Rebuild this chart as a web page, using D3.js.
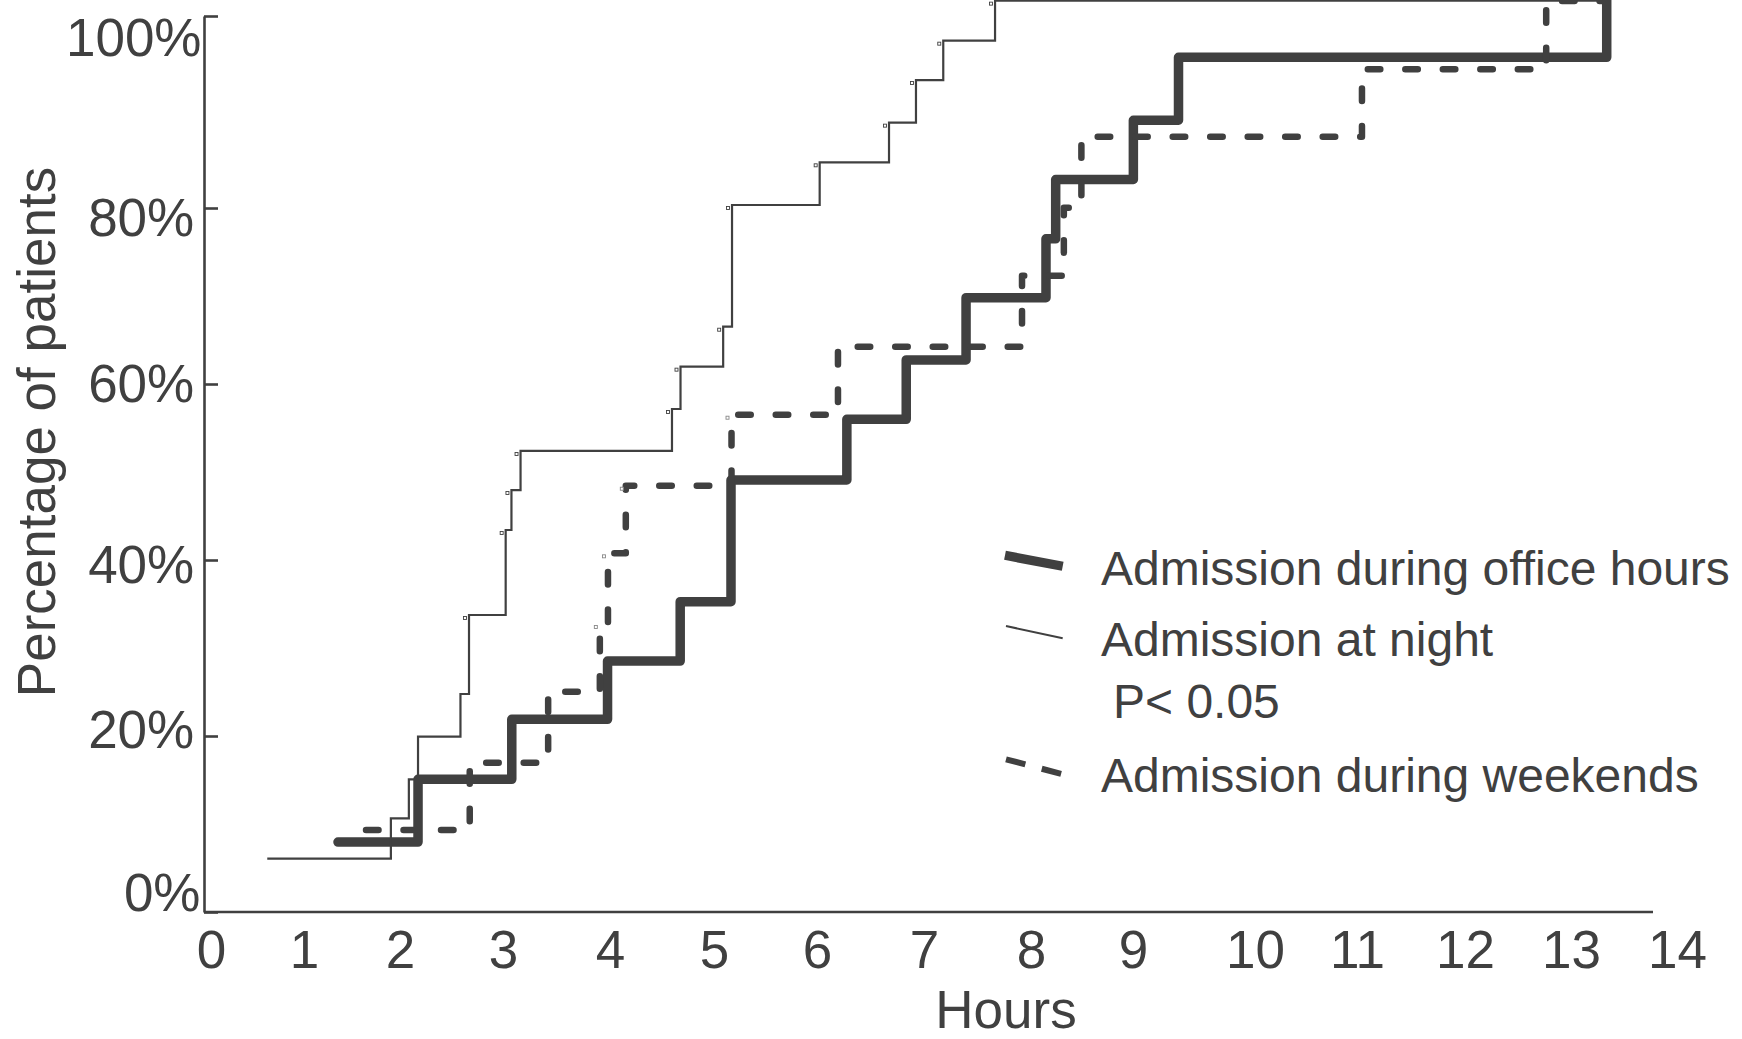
<!DOCTYPE html>
<html><head><meta charset="utf-8">
<script src="https://cdn.jsdelivr.net/npm/d3@7"></script>
<style>html,body{margin:0;padding:0;background:#fff;overflow:hidden}</style>
</head><body><svg id="chart" width="1742" height="1039"></svg>
<script>
// ---------- data ----------
const hourTicks = [0,1,2,3,4,5,6,7,8,9,10,11,12,13,14];
const pctTicks = [0,20,40,60,80,100];
const seriesNames = ["Admission during office hours","Admission at night","Admission during weekends"];
const pValueText = "P< 0.05";

// office hours (thick line): step times (h) and cumulative %
const officeTimes  = [1.354,2.175,3.082,3.977,4.675,5.165,6.279,6.834,7.393,8.147,8.242,9.003,9.373,13.337];
const officeValues = [7.95,15.08,21.90,28.52,35.26,49.09,55.99,62.73,69.81,76.50,82.97,89.14,95.70,102.3];

// night (thin line)
const nightTimes  = [0.605,1.905,2.086,2.175,2.587,2.670,3.025,3.079,3.164,4.596,4.678,5.089,5.175,6.025,6.673,6.925,7.180,7.664,13.302];
const nightValues = [6.06,10.65,15.08,19.92,24.77,33.75,43.41,47.95,52.39,57.16,61.97,66.51,80.31,84.76,88.89,93.33,97.43,101.6,101.6];
const nightMarked = [5,6,7,8,9,10,11,12,13,14,15,16,17];

// weekends (dashed line)
const weekendTimes  = [1.646,2.677,3.422,3.905,3.981,4.152,5.170,6.196,7.916,8.322,8.494,11.046,12.766,13.292];
const weekendValues = [9.32,16.97,25.03,32.73,40.76,48.44,56.51,64.24,72.31,80.03,87.43,94.45,101.56,101.56];
const weekendMarked = [3,4,5,6];

// ---------- layout ----------
const INK = "#404040";
const FONT = "'Liberation Sans', Arial, Helvetica, sans-serif";
const svg = d3.select("#chart");
svg.append("rect").attr("width",1742).attr("height",1039).attr("fill","#fff");

const x = d3.scaleLinear().domain(hourTicks)
  .range([211,304,400,503,610,714,817,924,1031,1133,1255,1357,1465,1571,1677]);
const y = d3.scaleLinear().domain(pctTicks).range([912,736,560,384,208,16]);

// x axis
const xAxisG = svg.append("g").attr("transform","translate(0,912)")
  .call(d3.axisBottom(x).tickValues(hourTicks).tickSize(0).tickFormat(d3.format("d")));
xAxisG.select(".domain").remove();
xAxisG.selectAll("text").attr("y",56).attr("dy",0)
  .attr("fill",INK).style("font-family",FONT).style("font-size","53px");
svg.append("line").attr("x1",204).attr("x2",1653).attr("y1",912).attr("y2",912)
  .attr("stroke",INK).attr("stroke-width",2.6);

// y axis
const labelX = {0:-3.5,20:-9.8,40:-9.8,60:-9.8,80:-9.8,100:-2.5};
const labelBase = {0:-2,20:11.7,40:22.7,60:17.7,80:27,100:39};
const yAxisG = svg.append("g").attr("transform","translate(204,0)")
  .call(d3.axisLeft(y).tickValues(pctTicks).tickSize(-14).tickSizeOuter(0).tickFormat(d=>d+"%"));
yAxisG.select(".domain").attr("stroke",INK).attr("stroke-width",2.6);
yAxisG.selectAll(".tick line").attr("stroke",INK).attr("stroke-width",2.6);
yAxisG.selectAll(".tick text")
  .attr("x",d=>labelX[d]).attr("dy",0).attr("y",d=>labelBase[d])
  .attr("fill",INK).style("font-family",FONT).style("font-size","53px");

// axis titles
svg.append("text").attr("x",1006).attr("y",1027.5).attr("text-anchor","middle")
  .attr("fill",INK).style("font-family",FONT).style("font-size","53px").text("Hours");
svg.append("text").attr("transform","translate(55,432) rotate(-90)").attr("text-anchor","middle")
  .attr("fill",INK).style("font-family",FONT).style("font-size","53px").text("Percentage of patients");

// ---------- curves ----------
const line = d3.line().x(d=>x(d[0])).y(d=>y(d[1])).curve(d3.curveStepAfter);
const office = d3.zip(officeTimes, officeValues);
const night = d3.zip(nightTimes, nightValues);
const weekend = d3.zip(weekendTimes, weekendValues);

svg.append("path").datum(office).attr("d",line).attr("fill","none")
  .attr("stroke",INK).attr("stroke-width",9.5)
  .attr("stroke-linejoin","round").attr("stroke-linecap","round");
svg.append("path").datum(night).attr("d",line).attr("fill","none")
  .attr("stroke",INK).attr("stroke-width",2.2).attr("stroke-linejoin","miter");
svg.append("path").datum(weekend).attr("d",line).attr("fill","none")
  .attr("stroke",INK).attr("stroke-width",6.5)
  .attr("stroke-linecap","round").attr("stroke-linejoin","round")
  .attr("stroke-dasharray","12.5,25");

// small censor marks near steps
svg.append("g").selectAll("rect").data(nightMarked.map(i=>night[i])).join("rect")
  .attr("x",d=>x(d[0])-5.5).attr("y",d=>y(d[1])+1.5).attr("width",3).attr("height",3)
  .attr("fill","#fff").attr("stroke",INK).attr("stroke-width",0.9);
svg.append("g").selectAll("rect").data(weekendMarked.map(i=>weekend[i])).join("rect")
  .attr("x",d=>x(d[0])-5.5).attr("y",d=>y(d[1])+1.5).attr("width",3).attr("height",3)
  .attr("fill","#fff").attr("stroke","#888").attr("stroke-width",0.9);

// ---------- legend ----------
const lg = svg.append("g");
lg.append("line").attr("x1",1005).attr("y1",555.3).attr("x2",1062.7).attr("y2",566.3)
  .attr("stroke",INK).attr("stroke-width",9.3);
lg.append("line").attr("x1",1006).attr("y1",626).attr("x2",1062.7).attr("y2",638.3)
  .attr("stroke",INK).attr("stroke-width",2);
lg.append("line").attr("x1",1006).attr("y1",759.3).attr("x2",1062.7).attr("y2",774.3)
  .attr("stroke",INK).attr("stroke-width",6).attr("stroke-dasharray","20,17");
const legendText = [
  {t:seriesNames[0], x:1101, y:585},
  {t:seriesNames[1], x:1101, y:656},
  {t:pValueText,     x:1113, y:718.3},
  {t:seriesNames[2], x:1101, y:791.6}
];
lg.selectAll("text.leg").data(legendText).join("text").attr("class","leg")
  .attr("x",d=>d.x).attr("y",d=>d.y).attr("fill",INK)
  .style("font-family",FONT).style("font-size","48px").text(d=>d.t);
</script>
</body></html>
